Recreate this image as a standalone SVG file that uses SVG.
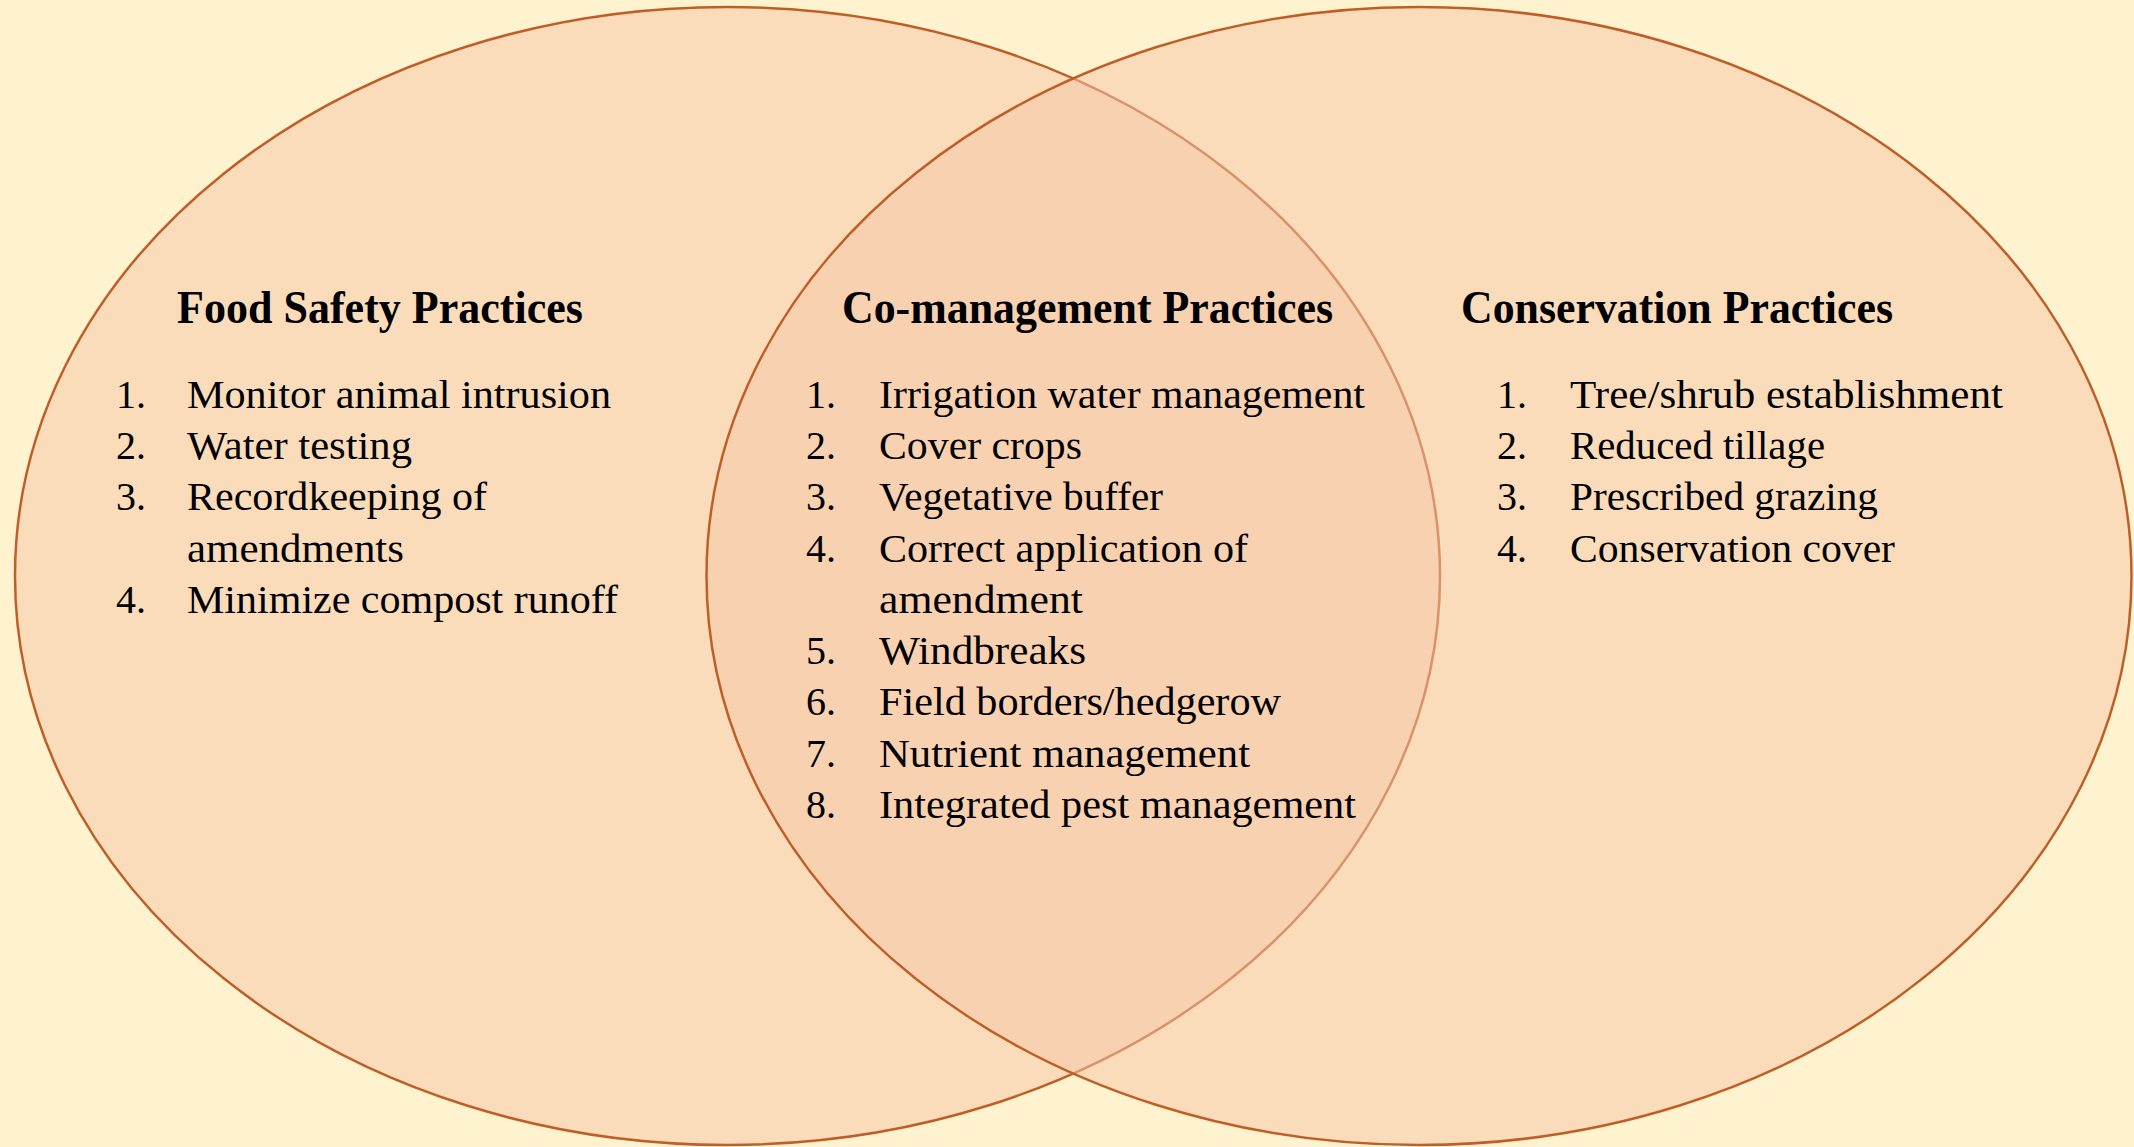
<svg xmlns="http://www.w3.org/2000/svg" width="2134" height="1147" viewBox="0 0 2134 1147">
<style>
.circle{fill:#F5C6A8;fill-opacity:0.5;stroke:#BF5F28;stroke-width:2.5}
.title{font-family:"Liberation Serif",serif;font-weight:bold;font-size:46px;fill:#000}
.item{font-family:"Liberation Serif",serif;font-size:40px;fill:#000}
</style>
<rect width="2134" height="1147" fill="#FFF2CE"/>
<g id="food-safety">
<ellipse class="circle" cx="727.5" cy="576" rx="712.5" ry="569"/>
<text class="title" x="177" y="323" textLength="406" lengthAdjust="spacingAndGlyphs">Food Safety Practices</text>
<g class="item">
<text x="116" y="408">1.</text><text x="187" y="408" textLength="424" lengthAdjust="spacingAndGlyphs">Monitor animal intrusion</text>
<text x="116" y="459">2.</text><text x="187" y="459" textLength="225" lengthAdjust="spacingAndGlyphs">Water testing</text>
<text x="116" y="510">3.</text><text x="187" y="510" textLength="300" lengthAdjust="spacingAndGlyphs">Recordkeeping of</text>
<text x="187" y="562" textLength="217" lengthAdjust="spacingAndGlyphs">amendments</text>
<text x="116" y="613">4.</text><text x="187" y="613" textLength="431" lengthAdjust="spacingAndGlyphs">Minimize compost runoff</text>
</g>
</g>
<g id="conservation">
<ellipse class="circle" cx="1419" cy="576" rx="712.5" ry="569"/>
<text class="title" x="1461" y="323" textLength="432" lengthAdjust="spacingAndGlyphs">Conservation Practices</text>
<g class="item">
<text x="1497" y="408">1.</text><text x="1570" y="408" textLength="433" lengthAdjust="spacingAndGlyphs">Tree/shrub establishment</text>
<text x="1497" y="459">2.</text><text x="1570" y="459" textLength="255" lengthAdjust="spacingAndGlyphs">Reduced tillage</text>
<text x="1497" y="510">3.</text><text x="1570" y="510" textLength="308" lengthAdjust="spacingAndGlyphs">Prescribed grazing</text>
<text x="1497" y="562">4.</text><text x="1570" y="562" textLength="325" lengthAdjust="spacingAndGlyphs">Conservation cover</text>
</g>
</g>
<g id="co-management">
<text class="title" x="842" y="323" textLength="491" lengthAdjust="spacingAndGlyphs">Co-management Practices</text>
<g class="item">
<text x="806" y="408">1.</text><text x="879" y="408" textLength="486" lengthAdjust="spacingAndGlyphs">Irrigation water management</text>
<text x="806" y="459">2.</text><text x="879" y="459" textLength="203" lengthAdjust="spacingAndGlyphs">Cover crops</text>
<text x="806" y="510">3.</text><text x="879" y="510" textLength="284" lengthAdjust="spacingAndGlyphs">Vegetative buffer</text>
<text x="806" y="562">4.</text><text x="879" y="562" textLength="369" lengthAdjust="spacingAndGlyphs">Correct application of</text>
<text x="879" y="613" textLength="204" lengthAdjust="spacingAndGlyphs">amendment</text>
<text x="806" y="664">5.</text><text x="879" y="664" textLength="207" lengthAdjust="spacingAndGlyphs">Windbreaks</text>
<text x="806" y="715">6.</text><text x="879" y="715" textLength="402" lengthAdjust="spacingAndGlyphs">Field borders/hedgerow</text>
<text x="806" y="767">7.</text><text x="879" y="767" textLength="371" lengthAdjust="spacingAndGlyphs">Nutrient management</text>
<text x="806" y="818">8.</text><text x="879" y="818" textLength="477" lengthAdjust="spacingAndGlyphs">Integrated pest management</text>
</g>
</g>
<g id="connectors"/>
</svg>
